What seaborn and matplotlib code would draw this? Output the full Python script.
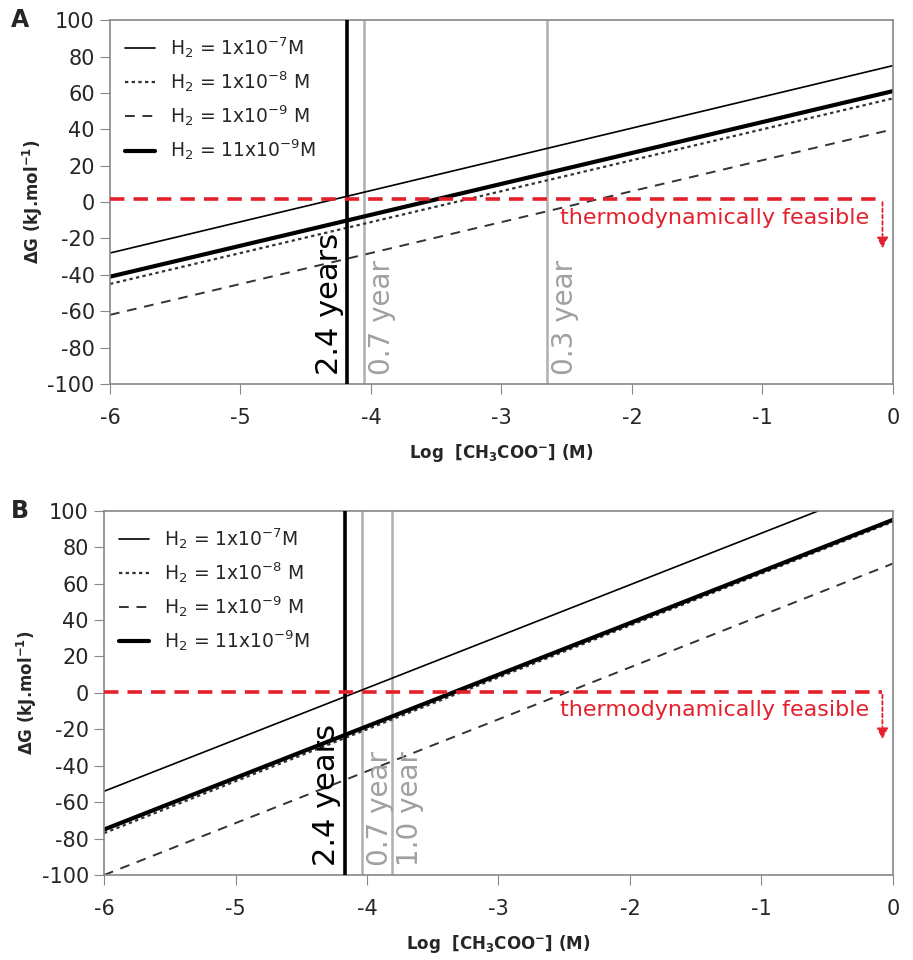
import numpy as np
import pandas as pd
import matplotlib.pyplot as plt
import seaborn as sns

sns.set_style('ticks')
plt.rcParams['font.family'] = ['DejaVu Sans']
plt.rcParams['mathtext.default'] = 'regular'
plt.rcParams['axes.unicode_minus'] = False

# -----------------------
# data (line endpoints at log[acetate] = -6 and 0)

log_ac = [-6, 0]
series = ['H$_2$ = 1x10$^{-7}$M', 'H$_2$ = 1x10$^{-8}$ M',
          'H$_2$ = 1x10$^{-9}$ M', 'H$_2$ = 11x10$^{-9}$M']

dg_a = {
    series[0]: [-28, 75],
    series[1]: [-45, 57],
    series[2]: [-62, 40],
    series[3]: [-41, 61],
}
dg_b = {
    series[0]: [-54, 116],
    series[1]: [-77, 94],
    series[2]: [-100, 71],
    series[3]: [-75, 95],
}

# vertical markers (log acetate, label)
vlines_a = [(-4.18, '2.4 years'), (-4.05, '0.7 year'), (-2.65, '0.3 year')]
vlines_b = [(-4.17, '2.4 years'), (-4.04, '0.7 year'), (-3.81, '1.0 year')]

feasible_y = {'A': 1.5, 'B': 0.5}

# -----------------------

styles = {
    series[0]: dict(color='black', lw=1.2, ls='-'),
    series[1]: dict(color='#333333', lw=1.6, ls=(0, (1.5, 1.5))),
    series[2]: dict(color='#333333', lw=1.4, ls=(0, (5, 4))),
    series[3]: dict(color='black', lw=3.0, ls='-'),
}

red = '#e3202b'

fig = plt.figure(figsize=(9.13, 9.6), dpi=100)
ax_a = fig.add_axes([0.1205, 0.600, 0.8575, 0.379])
ax_b = fig.add_axes([0.1140, 0.0885, 0.8640, 0.3795])


def draw(ax, dg, vl, fy):
    df = pd.DataFrame([(s, x, y) for s in series for x, y in zip(log_ac, dg[s])],
                      columns=['series', 'log_ac', 'dg'])
    for s in series:
        sub = df[df['series'] == s]
        st = styles[s]
        sns.lineplot(data=sub, x='log_ac', y='dg', ax=ax, color=st['color'],
                     lw=st['lw'], linestyle=st['ls'], label=s, errorbar=None)

    # feasibility line
    ax.plot([-6, -0.08], [fy, fy], color=red, lw=2.6, ls=(0, (4, 2.5)), zorder=4)
    ax.annotate('', xy=(-0.08, -27), xytext=(-0.08, fy),
                arrowprops=dict(arrowstyle='-|>', color=red, lw=1.3,
                                ls=(0, (2, 1.5)), mutation_scale=16))
    ax.text(-0.18, fy - 10, 'thermodynamically feasible', color=red,
            fontsize=16, ha='right', va='center')

    for i, (xv, lab) in enumerate(vl):
        if i == 0:
            ax.axvline(xv, color='black', lw=2.6, zorder=3)
            ax.text(xv - 0.03, -95, lab, rotation=90, ha='right', va='bottom',
                    fontsize=22, color='black')
        else:
            ax.axvline(xv, color='#b0b0b0', lw=1.8, zorder=1)
            ax.text(xv + 0.03, -95, lab, rotation=90, ha='left', va='bottom',
                    fontsize=20, color='#a0a0a0')

    ax.set_xlim(-6, 0)
    ax.set_ylim(-100, 100)
    ax.set_xticks(range(-6, 1))
    ax.set_yticks(range(-100, 101, 20))
    ax.tick_params(labelsize=15, length=7, color='#888888', pad=10)
    ax.tick_params(axis='y', pad=4)
    for sp in ax.spines.values():
        sp.set_color('#888888')
        sp.set_linewidth(1.2)
    ax.set_xlabel('Log  [CH$_3$COO$^{-}$] (M)', fontsize=12, fontweight='bold',
                  labelpad=10)
    ax.set_ylabel('ΔG (kJ.mol$^{-1}$)', fontsize=12, fontweight='bold', labelpad=2)

    ax.legend(loc='upper left', frameon=False, fontsize=13.5,
              handlelength=1.6, handletextpad=0.8, labelspacing=0.5,
              borderaxespad=0.4, bbox_to_anchor=(0.0, 1.0))


draw(ax_a, dg_a, vlines_a, feasible_y['A'])
draw(ax_b, dg_b, vlines_b, feasible_y['B'])

fig.text(0.012, 0.979, 'A', fontsize=17, fontweight='bold', ha='left', va='center')
fig.text(0.012, 0.468, 'B', fontsize=17, fontweight='bold', ha='left', va='center')

plt.savefig('out.png', dpi=100)
